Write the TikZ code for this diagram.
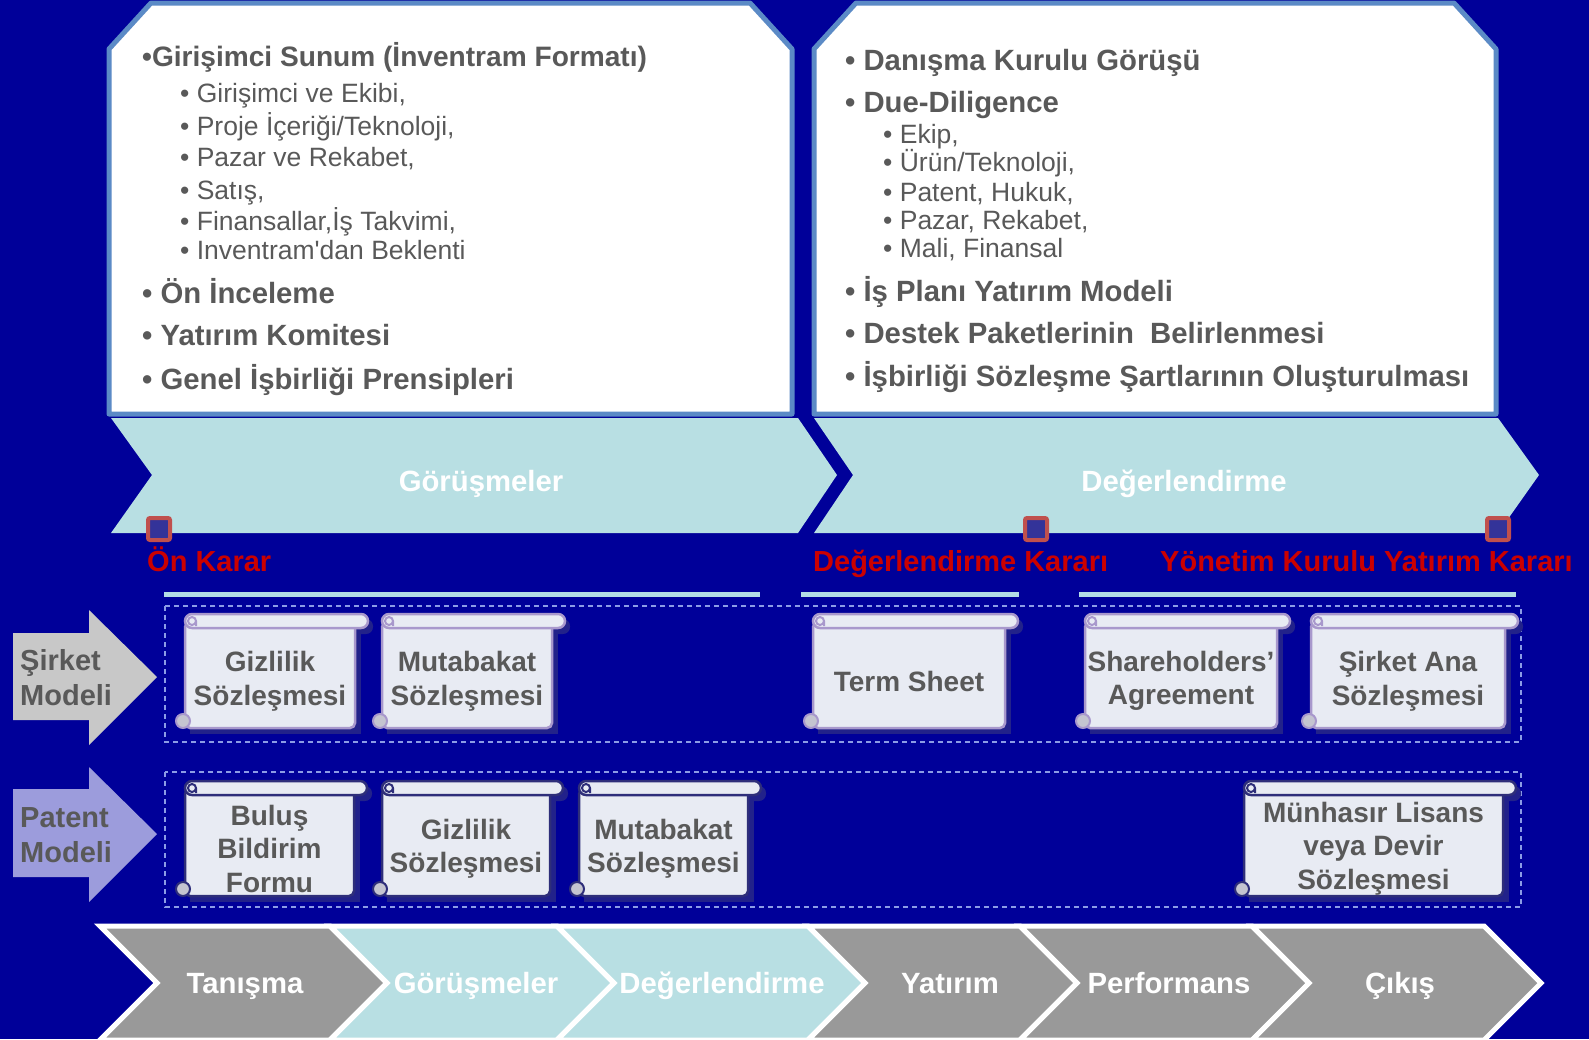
\documentclass[tikz,border=0pt]{standalone}
\usepackage{fontspec}
\setmainfont{Liberation Sans}
\usetikzlibrary{positioning}
\definecolor{bgblue}{HTML}{000099}
\definecolor{boxline}{HTML}{5B8AC6}
\definecolor{txtgray}{HTML}{595959}
\definecolor{chevblue}{HTML}{B8DFE3}
\definecolor{chevgray}{HTML}{999999}
\definecolor{karared}{HTML}{CC0000}
\definecolor{markred}{HTML}{C0504D}
\definecolor{markblue}{HTML}{333399}
\definecolor{barblue}{HTML}{B4DDE6}
\definecolor{dashblue}{HTML}{8C9CE6}
\definecolor{sirketgray}{HTML}{C8C8C8}
\definecolor{patentlila}{HTML}{9C9CDC}
\definecolor{paper}{HTML}{E8EBF3}
\definecolor{lavline}{HTML}{A898CC}
\definecolor{navyline}{HTML}{2E2E7A}
\definecolor{shadowblue}{HTML}{22228A}
\definecolor{curlgray}{HTML}{C4C4D0}

% scroll: name, left, right, top, bottom, line colour, text
\newcommand{\docscroll}[7]{%
  \fill[shadowblue] (#2+5,#4+12) rectangle (#3+6,#5+6);
  \fill[shadowblue, rounded corners=7pt] (#2+5,#4+5) rectangle (#3+18,#4+20);
  \draw[fill=paper, draw=#6, line width=2.5pt, rounded corners=5pt] (#2,#4+8) rectangle (#3,#5);
  \draw[fill=paper, draw=#6, line width=2.5pt, rounded corners=7pt] (#2,#4) rectangle (#3+13,#4+14);
  \draw[draw=#6, line width=2pt] (#2+7,#4+7) circle (4) (#2+11,#4+7) -- (#2+11,#4+12);
  \draw[fill=curlgray, draw=#6, line width=2pt] (#2-2,#5-7) circle (7);
  \node[scrolltxt] (#1) at ({(#2+#3)/2},{(#4+#5)/2+10}) {#7};
}

\begin{document}
\begin{tikzpicture}[x=1pt,y=-1pt,
    topbox/.style={draw=boxline, line width=5pt, fill=white, line join=round},
    mainitem/.style={anchor=base west, inner sep=0, text=txtgray, font=\fontsize{29.3}{33}\selectfont\bfseries},
    subitem/.style={anchor=base west, inner sep=0, text=txtgray, font=\fontsize{26.5}{30}\selectfont},
    chevtxt/.style={text=white, font=\fontsize{29.3}{33}\selectfont\bfseries},
    kararlbl/.style={anchor=base west, inner sep=0, text=karared, font=\fontsize{29}{33}\selectfont\bfseries},
    marker/.style={draw=markred, fill=markblue, line width=4pt, minimum size=22pt, inner sep=0, rounded corners=2pt},
    bar/.style={barblue, line width=5pt},
    modelbox/.style={dashblue, line width=1.5pt, dash pattern=on 5pt off 4pt},
    sidetxt/.style={anchor=west, align=left, inner sep=0, text=txtgray, font=\fontsize{29}{35}\selectfont\bfseries},
    scrolltxt/.style={align=center, inner sep=0, text=txtgray, font=\fontsize{28}{33.5}\selectfont\bfseries},
    phasechev/.style={draw=white, line width=5pt, line join=miter}]
\useasboundingbox (0,0) rectangle (1589,1039);
\fill[bgblue] (0,0) rectangle (1589,1039);

% top boxes
\draw[topbox] (109,49) -- (151,3) -- (750,3) -- (792,49) -- (792,414) -- (109,414) -- cycle;
\draw[topbox] (814,49) -- (856,3) -- (1454,3) -- (1496,49) -- (1496,414) -- (814,414) -- cycle;

\node[mainitem, font=\fontsize{28.1}{33}\selectfont\bfseries] (sunum) at (142,66) {•Girişimci Sunum (İnventram Formatı)};
\node[subitem] (s1) at (180,102) {• Girişimci ve Ekibi,};
\node[subitem] (s2) at (180,135) {• Proje İçeriği/Teknoloji,};
\node[subitem] (s3) at (180,166) {• Pazar ve Rekabet,};
\node[subitem] (s4) at (180,199) {• Satış,};
\node[subitem] (s5) at (180,230) {• Finansallar,İş Takvimi,};
\node[subitem] (s6) at (180,259) {• Inventram\textquotesingle dan Beklenti};
\node[mainitem] (inceleme) at (142,303) {• Ön İnceleme};
\node[mainitem] (komite) at (142,345) {• Yatırım Komitesi};
\node[mainitem] (prensip) at (142,389) {• Genel İşbirliği Prensipleri};

\node[mainitem] (danisma) at (845,70) {• Danışma Kurulu Görüşü};
\node[mainitem] (due) at (845,112) {• Due-Diligence};
\node[subitem] (d1) at (883,143) {• Ekip,};
\node[subitem] (d2) at (883,171) {• Ürün/Teknoloji,};
\node[subitem] (d3) at (883,201) {• Patent, Hukuk,};
\node[subitem] (d4) at (883,229) {• Pazar, Rekabet,};
\node[subitem] (d5) at (883,257) {• Mali, Finansal};
\node[mainitem] (isplani) at (845,301) {• İş Planı Yatırım Modeli};
\node[mainitem] (destek) at (845,343) {• Destek Paketlerinin~ Belirlenmesi};
\node[mainitem] (sozlesme) at (845,386) {• İşbirliği Sözleşme Şartlarının Oluşturulması};

% phase chevrons
\fill[chevblue] (111,418) -- (798,418) -- (837,475) -- (798,533) -- (111,533) -- (152,475) -- cycle;
\fill[chevblue] (814,418) -- (1498,418) -- (1539,475) -- (1498,533) -- (814,533) -- (853,475) -- cycle;
\node[chevtxt, anchor=base] (gorusme) at (481,491) {Görüşmeler};
\node[chevtxt, anchor=base] (degerlendirme) at (1184,491) {Değerlendirme};

% decisions
\node[marker] (m1) at (159,529) {};
\node[marker] (m2) at (1036,529) {};
\node[marker] (m3) at (1498,529) {};
\node[kararlbl] (onkarar) at (147,571) {Ön Karar};
\node[kararlbl] (degkarar) at (813,571) {Değerlendirme Kararı};
\node[kararlbl] (ykkarar) at (1160,571) {Yönetim Kurulu Yatırım Kararı};
\draw[bar] (164,594) -- (760,594);
\draw[bar] (801,594) -- (1019,594);
\draw[bar] (1079,594) -- (1516,594);

% models
\draw[modelbox] (165,606) rectangle (1521,742);
\draw[modelbox] (165,772) rectangle (1521,907);
\fill[sirketgray] (13,633) -- (89,633) -- (89,610) -- (157,677) -- (89,745) -- (89,720) -- (13,720) -- cycle;
\fill[patentlila] (13,789) -- (89,789) -- (89,767) -- (157,834) -- (89,902) -- (89,877) -- (13,877) -- cycle;
\node[sidetxt] (sirket) at (20,678) {Şirket\\Modeli};
\node[sidetxt] (patent) at (20,835) {Patent\\Modeli};

\docscroll{gizlilik}{185}{355}{614}{728}{lavline}{Gizlilik\\Sözleşmesi}
\docscroll{mutabakat}{382}{552}{614}{728}{lavline}{Mutabakat\\Sözleşmesi}
\docscroll{termsheet}{813}{1005}{614}{728}{lavline}{Term Sheet}
\docscroll{shareholders}{1085}{1277}{614}{728}{lavline}{Shareholders’\\Agreement}
\docscroll{anasozlesme}{1311}{1505}{614}{728}{lavline}{Şirket Ana\\Sözleşmesi}

\docscroll{bulus}{185}{354}{781}{896}{navyline}{Buluş\\Bildirim\\Formu}
\docscroll{pgizlilik}{382}{550}{781}{896}{navyline}{Gizlilik\\Sözleşmesi}
\docscroll{pmutabakat}{579}{748}{781}{896}{navyline}{Mutabakat\\Sözleşmesi}
\docscroll{lisans}{1244}{1503}{781}{896}{navyline}{Münhasır Lisans\\veya Devir\\Sözleşmesi}

% process
\foreach \a/\b/\col/\cx/\lbl [count=\i] in {100/330/chevgray/245/Tanışma, 330/557/chevblue/476/Görüşmeler, 557/808/chevblue/722/Değerlendirme, 808/1020/chevgray/950/Yatırım, 1020/1252/chevgray/1169/Performans, 1252/1484/chevgray/1400/Çıkış}
{
  \draw[phasechev, fill=\col] (\a,926) -- (\b,926) -- (\b+57,983) -- (\b,1040) -- (\a,1040) -- (\a+57,983) -- cycle;
  \node[chevtxt, anchor=base] (phase\i) at (\cx,993) {\lbl};
}
\end{tikzpicture}
\end{document}
